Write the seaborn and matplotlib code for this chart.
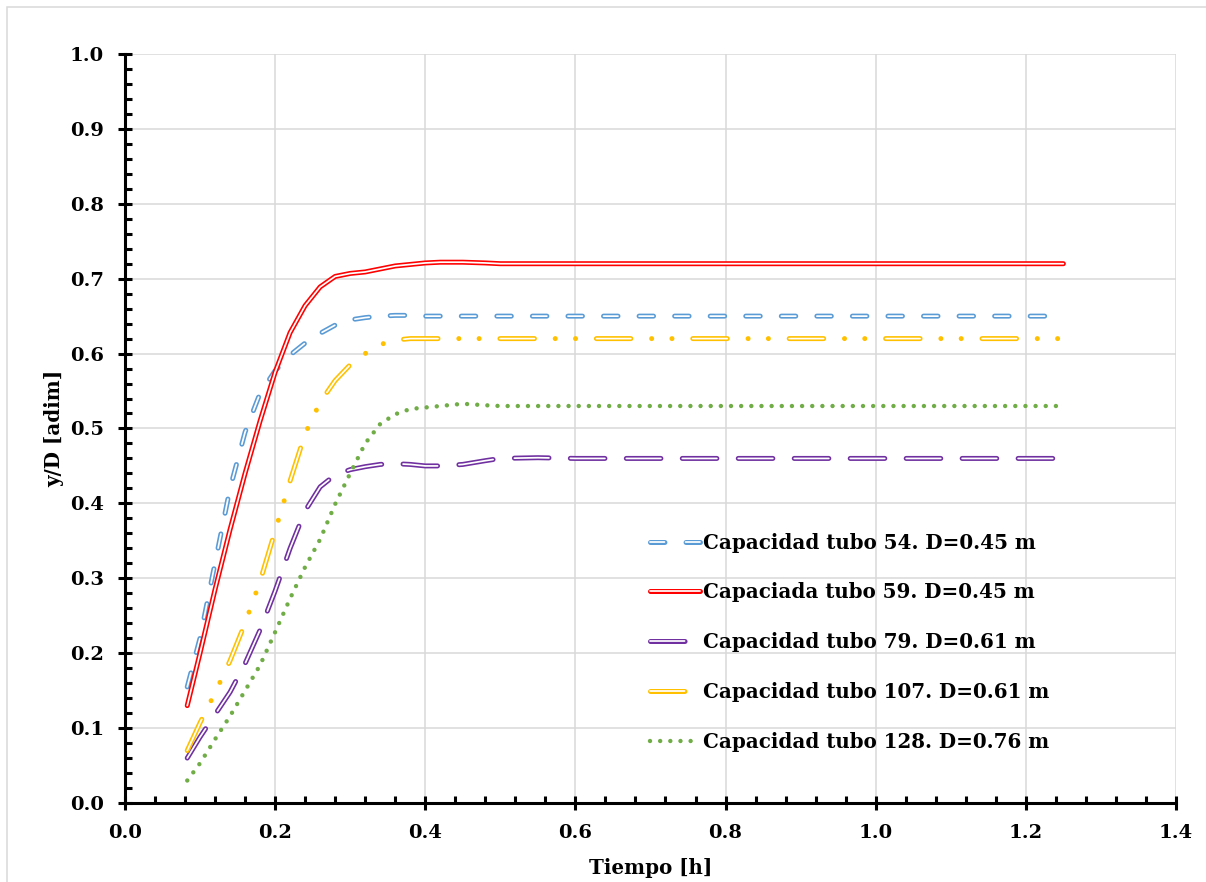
import matplotlib
matplotlib.use("Agg")
import matplotlib.pyplot as plt
from matplotlib.legend_handler import HandlerTuple
from matplotlib.patches import Rectangle
from matplotlib.ticker import MultipleLocator, FormatStrFormatter
import seaborn as sns

# tiempo [h] y tirante relativo y/D para cada tubo
tiempo = [0.083, 0.10, 0.12, 0.14, 0.16, 0.18, 0.20, 0.22, 0.24, 0.26, 0.28, 0.30,
          0.32, 0.34, 0.36, 0.38, 0.40, 0.42, 0.45, 0.48, 0.50, 0.55, 0.60, 0.70,
          0.80, 0.90, 1.00, 1.10, 1.20, 1.25]
tubo_54 = [0.155, 0.22, 0.32, 0.42, 0.495, 0.547, 0.577, 0.598, 0.614, 0.627, 0.638, 0.645,
           0.648, 0.650, 0.651, 0.651, 0.650, 0.650, 0.650, 0.650, 0.650, 0.650, 0.650, 0.650,
           0.650, 0.650, 0.650, 0.650, 0.650, 0.650]
tubo_59 = [0.13, 0.20, 0.285, 0.365, 0.44, 0.51, 0.575, 0.628, 0.664, 0.689, 0.703, 0.707,
           0.709, 0.713, 0.717, 0.719, 0.721, 0.722, 0.722, 0.721, 0.720, 0.720, 0.720, 0.720,
           0.720, 0.720, 0.720, 0.720, 0.720, 0.720]
tubo_79 = [0.06, 0.088, 0.118, 0.148, 0.186, 0.231, 0.283, 0.34, 0.39, 0.422, 0.438, 0.445,
           0.449, 0.452, 0.453, 0.452, 0.450, 0.450, 0.452, 0.457, 0.460, 0.461, 0.460, 0.460,
           0.460, 0.460, 0.460, 0.460, 0.460, 0.460]
tubo_107 = [0.07, 0.107, 0.147, 0.19, 0.24, 0.296, 0.363, 0.43, 0.493, 0.535, 0.564, 0.585,
            0.600, 0.612, 0.618, 0.620, 0.620, 0.620, 0.620, 0.620, 0.620, 0.620, 0.620, 0.620,
            0.620, 0.620, 0.620, 0.620, 0.620, 0.620]
tubo_128 = [0.03, 0.053, 0.085, 0.116, 0.15, 0.184, 0.228, 0.273, 0.315, 0.352, 0.399, 0.44,
            0.48, 0.506, 0.519, 0.526, 0.528, 0.530, 0.533, 0.531, 0.530, 0.530, 0.530, 0.530,
            0.530, 0.530, 0.530, 0.530, 0.530, 0.530]
etiquetas = ["Capacidad tubo 54. D=0.45 m", "Capaciada tubo 59. D=0.45 m",
             "Capacidad tubo 79. D=0.61 m", "Capacidad tubo 107. D=0.61 m",
             "Capacidad tubo 128. D=0.76 m"]

sns.set_theme(style="white")
plt.rcParams['font.family'] = ['DejaVu Serif']
plt.rcParams['font.weight'] = 'bold'
plt.rcParams['text.color'] = 'black'
plt.rcParams['lines.scale_dashes'] = False

fig = plt.figure(figsize=(12.06, 8.82), dpi=100)
ax = fig.add_axes([0.1036, 0.0896, 0.8715, 0.8492])

# (datos, color, trazo exterior, trazo interior blanco) -> linea doble tipo Excel
series = [
    (tubo_54, "#5b9bd5", (10.4, 15.2), (10.4, 15.2)),
    (tubo_59, "#ff0000", None, None),
    (tubo_79, "#7030a0", (24.9, 15.4), (24.9, 15.4)),
    (tubo_107, "#ffc000", (24.8, 15.0, 0.01, 14.6, 0.01, 15.0), (24.8, 44.62)),
    (tubo_128, "#70ad47", (0.01, 7.3), "none"),
]

handles = []
for vals, col, dash_out, dash_in in series:
    lw = 3.2 if dash_in == "none" else 3.6
    sns.lineplot(x=tiempo, y=vals, color=col, linewidth=lw, ax=ax, legend=False)
    outer = ax.lines[-1]
    if dash_out is not None:
        outer.set_dashes(dash_out)
    outer.set_dash_capstyle('round')
    outer.set_solid_capstyle('round')
    outer.set_solid_joinstyle('round')
    if dash_in == "none":
        handles.append(outer)
        continue
    sns.lineplot(x=tiempo, y=vals, color="white", linewidth=1.25, ax=ax, legend=False)
    inner = ax.lines[-1]
    if dash_in is not None:
        inner.set_dashes(dash_in)
    inner.set_dash_capstyle('round')
    inner.set_solid_capstyle('round')
    inner.set_solid_joinstyle('round')
    handles.append((outer, inner))

ax.set_xlim(0, 1.4)
ax.set_ylim(0, 1.0)
ax.xaxis.set_major_locator(MultipleLocator(0.2))
ax.xaxis.set_minor_locator(MultipleLocator(0.04))
ax.yaxis.set_major_locator(MultipleLocator(0.1))
ax.yaxis.set_minor_locator(MultipleLocator(0.02))
ax.xaxis.set_major_formatter(FormatStrFormatter('%.1f'))
ax.yaxis.set_major_formatter(FormatStrFormatter('%.1f'))

ax.grid(True, which='major', color='#d9d9d9', linewidth=1.1)
ax.set_axisbelow(True)
for s in ['top', 'right']:
    ax.spines[s].set_visible(False)
for s in ['left', 'bottom']:
    ax.spines[s].set_color('black')
    ax.spines[s].set_linewidth(2.2)

ax.tick_params(which='major', direction='inout', length=10, width=2.2, color='black',
               labelsize=14, labelcolor='black', pad=10)
ax.tick_params(which='minor', direction='in', length=5, width=2.2, color='black')
ax.tick_params(axis='both', which='both', bottom=True, left=True)

ax.set_xlabel("Tiempo [h]", fontsize=14.3, fontweight='bold', color='black', labelpad=12)
ax.set_ylabel("y/D [adim]", fontsize=14.3, fontweight='bold', color='black', labelpad=4)

ax.legend(handles, etiquetas, handler_map={tuple: HandlerTuple(ndivide=1, pad=0)},
          loc='upper left', bbox_to_anchor=(0.50, 0.3610), frameon=False,
          handlelength=2.5, handletextpad=0.15, labelspacing=1.5,
          borderpad=0, borderaxespad=0, prop={'weight': 'bold', 'size': 14.3})

fig.patches.append(Rectangle((7 / 1206, -0.2), 1.2, 1.2 - 7 / 882, transform=fig.transFigure,
                             fill=False, edgecolor='#d9d9d9', linewidth=1.1))

fig.savefig("out.png", dpi=100)
